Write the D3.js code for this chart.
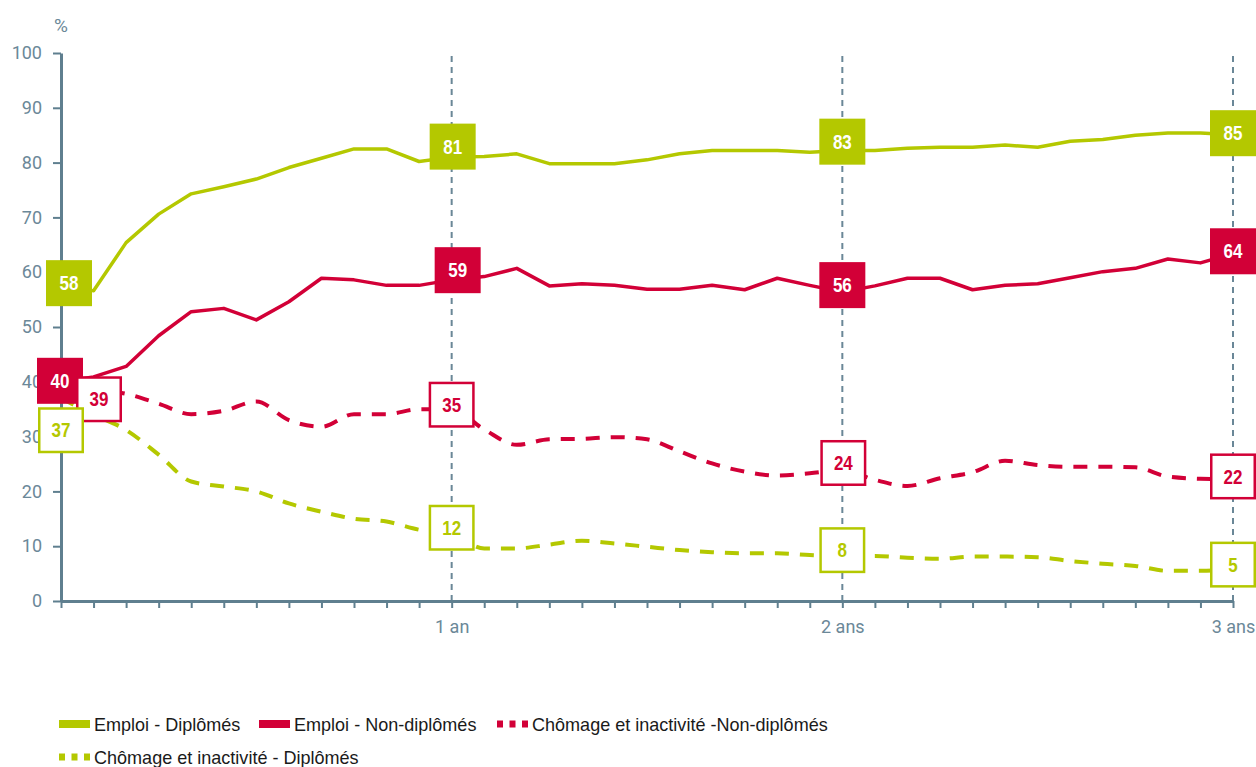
<!DOCTYPE html>
<html>
<head>
<meta charset="utf-8">
<script src="https://cdn.jsdelivr.net/npm/d3@7"></script>
<style>
  body { margin: 0; background: #fff; }
  svg { display: block; }
  .axis text { font-family: Roboto, "Liberation Sans", sans-serif; font-weight: 400; font-size: 18px; fill: #6b8898; }
  .axis line, .axis path { stroke: #5f7f8f; }
  .box-label { font-family: "Liberation Sans", Arial, sans-serif; font-weight: bold; font-size: 20px; }
  .legend text { font-family: "Liberation Sans", Arial, sans-serif; font-size: 19px; fill: #1a1a1a; }
</style>
</head>
<body>
<svg id="chart" width="1256" height="767"></svg>
<script>
// ── Data ──────────────────────────────────────────────────────────────────────
// months after leaving school, 0 → 36
const months = d3.range(0, 37);

const emploiDiplomes = [58, 56.6, 65.4, 70.6, 74.3, 75.6, 77.0, 79.1, 80.8, 82.5, 82.5, 80.2,
  81.0, 81.1, 81.6, 79.8, 79.8, 79.8, 80.5, 81.6, 82.2, 82.2, 82.2, 81.9,
  82.2, 82.2, 82.6, 82.8, 82.8, 83.2, 82.8, 83.9, 84.2, 85.0, 85.4, 85.4, 85.1];

const emploiNonDiplomes = [40, 40.9, 42.8, 48.4, 52.8, 53.4, 51.3, 54.6, 58.9, 58.6, 57.6, 57.6,
  58.6, 59.2, 60.7, 57.5, 57.9, 57.6, 56.9, 56.9, 57.6, 56.8, 58.9, 57.6,
  56.4, 57.5, 58.9, 58.9, 56.8, 57.6, 57.9, 59.0, 60.1, 60.7, 62.4, 61.7, 63.4];

const chomageNonDiplomes = [39, 38.5, 37.8, 36.0, 34.1, 34.7, 36.4, 33.0, 31.8, 34.1, 34.1, 35.0,
  35.0, 31.3, 28.5, 29.5, 29.6, 29.9, 29.5, 27.3, 25.1, 23.6, 22.9, 23.3,
  23.9, 22.1, 21.0, 22.4, 23.5, 25.6, 24.8, 24.5, 24.5, 24.4, 22.7, 22.3, 22.2];

const chomageDiplomes = [37, 34.0, 31.2, 26.7, 21.8, 20.9, 20.0, 17.8, 16.3, 15.0, 14.5, 13.0,
  12.2, 9.6, 9.6, 10.3, 11.0, 10.5, 9.9, 9.3, 8.9, 8.7, 8.7, 8.4,
  8.2, 8.2, 7.9, 7.7, 8.1, 8.1, 8.0, 7.3, 6.8, 6.4, 5.5, 5.5, 5.8];

// values printed in the boxes at 0, 1, 2 and 3 years
const labelMonths = [0, 12, 24, 36];
const labelsEmploiDip    = [58, 81, 83, 85];
const labelsEmploiNonDip = [40, 59, 56, 64];
const labelsChomNonDip   = [39, 35, 24, 22];
const labelsChomDip      = [37, 12, 8, 5];

const yTicks = [0, 10, 20, 30, 40, 50, 60, 70, 80, 90, 100];
const yearTicks = { 12: "1 an", 24: "2 ans", 36: "3 ans" };

// ── Styles ────────────────────────────────────────────────────────────────────
const GREEN = "#b4c800";
const RED   = "#d20037";
const GRID  = "#6a8797";
const NARROW = 0.95;   // no condensed font installed, squeeze horizontally instead

const series = [
  { name: "Emploi - Diplômés",                     values: emploiDiplomes,    labels: labelsEmploiDip,    color: GREEN, dashed: false,
    shift: [[8, 0], [1, -10.5], [0, -4.5], [0, -2]] },
  { name: "Emploi - Non-diplômés",                 values: emploiNonDiplomes, labels: labelsEmploiNonDip, color: RED,   dashed: false,
    shift: [[-1, -1], [6, -7.5], [0, -9], [0, 1]] },
  { name: "Chômage et inactivité -Non-diplômés",   values: chomageNonDiplomes, labels: labelsChomNonDip,  color: RED,   dashed: true,
    shift: [[38, 12], [0, -4.5], [1, -6.5], [0, -4]] },
  { name: "Chômage et inactivité - Diplômés",      values: chomageDiplomes,   labels: labelsChomDip,      color: GREEN, dashed: true,
    shift: [[0, 32], [0, -7.5], [0, -7], [0, -9]] }
];

// ── Scales & axes ─────────────────────────────────────────────────────────────
const svg = d3.select("#chart");
const x = d3.scaleLinear().domain([0, 36]).range([61, 1233]);
const y = d3.scaleLinear().domain([0, 100]).range([601, 53]);

// reference dashed verticals at each year
svg.append("g").selectAll("line").data(labelMonths.slice(1)).join("line")
  .attr("x1", d => x(d)).attr("x2", d => x(d))
  .attr("y1", y(100) + 3).attr("y2", y(0))
  .attr("stroke", GRID).attr("stroke-width", 2).attr("stroke-dasharray", "6,5");

const yAxis = svg.append("g").attr("class", "axis")
  .attr("transform", `translate(${x(0)},0)`)
  .call(d3.axisLeft(y).tickValues(yTicks).tickSize(8).tickSizeOuter(0).tickPadding(11));
yAxis.select(".domain").attr("stroke-width", 3);
yAxis.selectAll(".tick line").attr("stroke-width", 2);

const xAxis = svg.append("g").attr("class", "axis")
  .attr("transform", `translate(0,${y(0)})`)
  .call(d3.axisBottom(x).tickValues(months).tickSize(7).tickSizeOuter(0).tickPadding(12)
    .tickFormat(d => yearTicks[d] || ""));
xAxis.select(".domain").attr("stroke-width", 3);
xAxis.selectAll(".tick line").attr("stroke-width", 2);

svg.append("text")
  .attr("x", 54).attr("y", 32)
  .style("font-family", "Roboto, sans-serif")
  .style("font-size", "19px").style("fill", "#6b8898")
  .text("%");

// ── Lines ─────────────────────────────────────────────────────────────────────
const solidLine  = d3.line().x((d, i) => x(months[i])).y(d => y(d));
const dashedLine = d3.line().x((d, i) => x(months[i])).y(d => y(d)).curve(d3.curveMonotoneX);

svg.append("g").selectAll("path").data(series).join("path")
  .attr("d", s => (s.dashed ? dashedLine : solidLine)(s.values))
  .attr("fill", "none")
  .attr("stroke", s => s.color)
  .attr("stroke-width", s => s.dashed ? 4 : 3.5)
  .attr("stroke-linejoin", "round")
  .attr("stroke-dasharray", s => s.dashed ? "14,11" : null);

// ── Value boxes ───────────────────────────────────────────────────────────────
const BOX = 46;
const boxes = [];
series.forEach(s => s.labels.forEach((v, i) => boxes.push({
  s, v, cx: x(labelMonths[i]) + s.shift[i][0], cy: y(v) + s.shift[i][1]
})));

const box = svg.append("g").selectAll("g").data(boxes).join("g")
  .attr("transform", d => `translate(${d.cx},${d.cy})`);

box.append("rect")
  .attr("x", d => d.s.dashed ? -BOX / 2 + 1.25 : -BOX / 2)
  .attr("y", d => d.s.dashed ? -BOX / 2 + 1.25 : -BOX / 2)
  .attr("width",  d => d.s.dashed ? BOX - 2.5 : BOX)
  .attr("height", d => d.s.dashed ? BOX - 2.5 : BOX)
  .attr("fill",   d => d.s.dashed ? "#fff" : d.s.color)
  .attr("stroke", d => d.s.dashed ? d.s.color : "none")
  .attr("stroke-width", 2.5);

box.append("text")
  .attr("class", "box-label")
  .attr("text-anchor", "middle")
  .attr("dy", "0.36em")
  .attr("transform", "scale(0.85,1)")
  .attr("fill", d => d.s.dashed ? d.s.color : "#fff")
  .text(d => d.v);

// ── Legend ────────────────────────────────────────────────────────────────────
const legendPos = [[59, 724], [259, 724], [497, 724], [59, 757]];
const legend = svg.append("g").attr("class", "legend").selectAll("g").data(series).join("g")
  .attr("transform", (d, i) => `translate(${legendPos[i][0]},${legendPos[i][1]})`);

legend.each(function (s) {
  const g = d3.select(this);
  if (s.dashed) {
    g.selectAll("rect").data([0, 1, 2]).join("rect")
      .attr("x", k => k * 12.5).attr("y", -3.5).attr("width", 6).attr("height", 7)
      .attr("fill", s.color);
  } else {
    g.append("rect").attr("x", 0).attr("y", -4).attr("width", 31).attr("height", 8)
      .attr("fill", s.color);
  }
  g.append("text")
    .attr("transform", `translate(35,0) scale(${NARROW},1)`)
    .attr("dy", "0.36em").text(s.name);
});
</script>
</body>
</html>
